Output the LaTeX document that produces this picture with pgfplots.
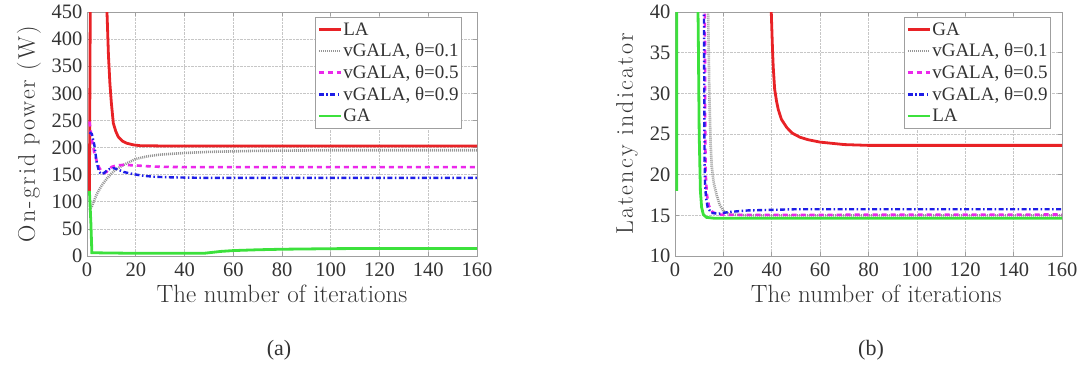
\documentclass[border=0pt]{standalone}
\usepackage{fontspec}
\usepackage{pgfplots}
\pgfplotsset{compat=1.18}
\newfontfamily\tnr{Liberation Serif}
\newfontfamily\lmwide[LetterSpace=9]{Latin Modern Roman}

\definecolor{cRed}{RGB}{232,34,38}
\definecolor{cGreen}{RGB}{60,225,60}
\definecolor{cGray}{RGB}{150,150,150}
\definecolor{cMag}{RGB}{235,40,235}
\definecolor{cBlue}{RGB}{30,30,230}

\pgfplotsset{
  panel/.style={
    scale only axis,
    xmin=0, xmax=160,
    xtick={0,20,...,160},
    grid=major,
    grid style={densely dotted, gray!45, line width=0.6pt},
    axis line style={gray!75, line width=0.8pt},
    tick style={gray!75, line width=0.6pt},
    tick align=inside,
    major tick length=4pt,
    /pgf/number format/assume math mode=true,
    tick label style={font=\tnr\fontsize{20.5}{20.5}\selectfont, text=black!80},
    xticklabel style={yshift=-7pt, inner sep=0pt},
    yticklabel style={xshift=-4.5pt, inner sep=0pt},
    xlabel style={font=\fontsize{25}{25}\selectfont, text=black!80},
    ylabel style={font=\lmwide\fontsize{24}{24}\selectfont, text=black!80},
    legend cell align=left,
    legend style={draw=gray!75, line width=0.8pt, fill=white,
      font=\tnr\fontsize{19}{19}\selectfont, text=black!80,
      inner xsep=2pt, inner ysep=4pt, row sep=5pt,
      nodes={inner sep=1pt}},
    legend image code/.code={\draw[#1] (0pt,0pt) -- (22pt,0pt);},
  },
  sRed/.style={cRed, line width=2.8pt},
  sGreen/.style={cGreen, line width=2.8pt},
  sGray/.style={cGray, line width=2.6pt, dash pattern=on 1pt off 1pt},
  sMag/.style={cMag, line width=2.6pt, dash pattern=on 5pt off 4pt},
  sBlue/.style={cBlue, line width=2.4pt, dash pattern=on 5pt off 2.5pt on 1.5pt off 2.5pt},
}

\begin{document}
\begin{tikzpicture}
\path[use as bounding box] (0pt,0pt) rectangle (1089pt,368pt);

% (a) on-grid power
\begin{axis}[panel,
  at={(87pt,112pt)}, anchor=south west,
  width=390pt, height=244pt,
  ymin=0, ymax=450, ytick={0,50,...,450},
  xlabel={The number of iterations},
  ylabel={On-grid power (W)},
  xlabel style={at={(axis description cs:0.5,-0.155)}, anchor=center},
  ylabel style={at={(axis description cs:-0.149,0.5)}, anchor=center},
  legend style={at={(0.9615,0.979)}, anchor=north east},
]
\addplot[sRed] coordinates {
 (1,120) (1.4,520) (7.8,520) (8.2,450) (8.8,370) (9.4,318) (10,282)
 (10.8,245) (11.8,230) (12.8,220) (14.5,212) (16.3,208) (19,205)
 (21.7,203.5) (30,203) (160,203)};
\addlegendentry{LA}
\addplot[sGray] coordinates {
 (1,85) (2,92) (3,103) (4,114) (5,122) (6,130) (8,142) (10,152) (12,160)
 (15,168) (20,179) (25,184) (30,187) (40,190) (50,192) (70,194) (100,195) (160,195)};
\addlegendentry{vGALA, θ=0.1}
\addplot[sMag] coordinates {
 (1,248) (2,215) (3,190) (4,175) (5,163) (6,156) (7,153) (8,155) (9,160)
 (10,164) (12,167) (15,168) (20,167) (25,165.5) (30,164.5) (40,164) (160,164)};
\addlegendentry{vGALA, θ=0.5}
\addplot[sBlue] coordinates {
 (1,228) (2,225) (3,205) (4,172) (5,155) (6,151) (7,153) (8,157) (9,160)
 (11,162) (13,159) (15,155) (19,151) (23,148) (28,146) (35,145) (50,144) (160,144)};
\addlegendentry{vGALA, θ=0.9}
\addplot[sGreen] coordinates {
 (1,120) (1.6,60) (2,6) (10,5.5) (20,5) (48,5) (50,6) (55,8.5) (60,10)
 (70,11.5) (80,12.5) (100,13.5) (120,14) (160,14)};
\addlegendentry{GA}
\end{axis}

% (b) latency indicator
\begin{axis}[panel,
  at={(675pt,112pt)}, anchor=south west,
  width=387pt, height=244pt,
  ymin=10, ymax=40, ytick={10,15,...,40},
  xlabel={The number of iterations},
  ylabel={Latency indicator},
  xlabel style={at={(axis description cs:0.52,-0.155)}, anchor=center},
  ylabel style={at={(axis description cs:-0.124,0.5)}, anchor=center},
  legend style={at={(0.9716,0.979)}, anchor=north east},
]
\addplot[sRed] coordinates {
 (39.6,42) (39.8,40) (40.3,35.5) (40.6,33.3) (41.2,30.5) (42,29) (42.7,28)
 (44,26.8) (46.2,25.8) (48.5,25.1) (51.7,24.6) (55,24.3) (60,24) (70,23.7)
 (80,23.6) (160,23.6)};
\addlegendentry{GA}
\addplot[sGray] coordinates {
 (13.6,42) (13.8,38) (14.2,30) (14.7,24) (15.2,21) (16,19) (17.3,17.4)
 (18.5,16.3) (20,15.5) (23,15.1) (30,15) (160,15)};
\addlegendentry{vGALA, θ=0.1}
\addplot[sMag] coordinates {
 (12.3,42) (12.4,35) (12.5,25) (12.7,20) (13.2,17.5) (14,16.2) (15.5,15.4)
 (18,15.1) (25,15.05) (160,15.1)};
\addlegendentry{vGALA, θ=0.5}
\addplot[sBlue] coordinates {
 (11.9,42) (12,38) (12.1,30) (12.2,22) (12.4,19) (12.8,17.2) (13.5,16)
 (15,15.3) (18,15.2) (22,15.4) (30,15.6) (50,15.75) (160,15.75)};
\addlegendentry{vGALA, θ=0.9}
\addplot[sGreen] coordinates {
 (0.7,18) (0.7,45) (9.3,45) (9.6,38) (10,25) (10.5,18) (11,16) (11.7,15.1)
 (13,14.75) (16,14.65) (160,14.65)};
\addlegendentry{LA}
\end{axis}

\node[font=\tnr\fontsize{22}{22}\selectfont, text=black!80] at (279pt,18pt) {(a)};
\node[font=\tnr\fontsize{22}{22}\selectfont, text=black!80] at (871pt,18pt) {(b)};
\end{tikzpicture}
\end{document}
